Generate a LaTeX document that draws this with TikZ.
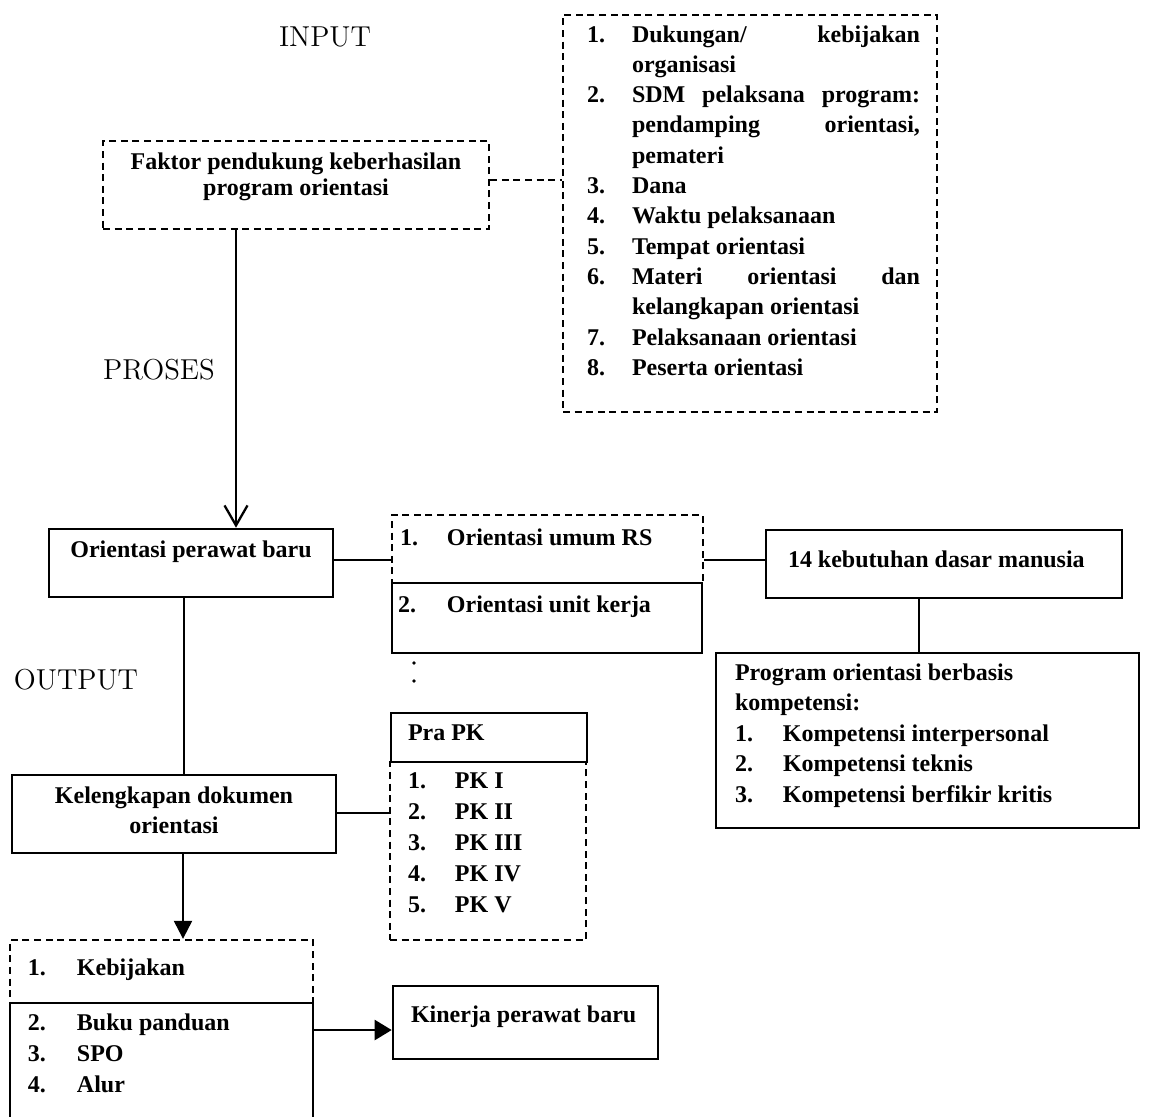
\documentclass[tikz,border=0pt]{standalone}
\usepackage{fontspec}
\newfontfamily\tnr{Liberation Serif}
\usetikzlibrary{arrows.meta}
\newlength\ind
\newcommand\itm[3][0pt]{\noindent\hangindent=\ind\hangafter=1\makebox[\ind][l]{\rule{0pt}{#1}#2}#3\par}
\newcommand\boxfont{\tnr\bfseries\fontsize{12}{15}\selectfont}
\newcommand\labfont{\fontsize{14.4}{17}\selectfont}
\newcommand\prep{\hyphenpenalty=10000 \exhyphenpenalty=10000 \tolerance=1000 \emergencystretch=200pt \hbadness=10000 \parindent=0pt \parskip=0pt }
\tikzset{
  bx/.style={draw, line width=1.3pt, inner sep=0pt, font=\boxfont},
  dbx/.style={bx, line width=1.2pt, dash pattern=on 3.5pt off 2.3pt},
  conn/.style={line width=1.15pt},
  dconn/.style={line width=1.15pt, dash pattern=on 3.5pt off 2.3pt},
  lab/.style={font=\labfont, inner sep=0pt}
}
\begin{document}
\begin{tikzpicture}[x=0.5pt,y=-0.5pt]
\useasboundingbox (0,0) rectangle (1149,1116);
\clip (0,0) rectangle (1149,1116);
% labels
\node[lab] (input) at (325,37) {INPUT};
\node[lab] (proses) at (159,370) {PROSES};
\node[lab] (output) at (76,680) {OUTPUT};
% input boxes
\node[dbx] (faktor) at (296,185) {\parbox[c][44pt][t]{193pt}{\prep\centering\baselineskip=13pt\rule{0pt}{14pt}Faktor pendukung keberhasilan\\program orientasi\par}};
\node[dbx] (list) at (750,213.5) {\parbox[c][198.5pt][t]{187pt}{\prep\baselineskip=15.15pt\leftskip=12pt\rightskip=8.5pt\ind=22.5pt
\itm[13.5pt]{1.}{Dukungan/ kebijakan organisasi}%
\itm{2.}{SDM pelaksana program: pendamping orientasi, pemateri}%
\itm{3.}{Dana}%
\itm{4.}{Waktu pelaksanaan}%
\itm{5.}{Tempat orientasi}%
\itm{6.}{Materi orientasi dan kelangkapan orientasi}%
\itm{7.}{Pelaksanaan orientasi}%
\itm{8.}{Peserta orientasi}}};
% process boxes
\node[bx] (orient) at (191,563) {\parbox[c][34pt][t]{142pt}{\prep\centering\rule{0pt}{14pt}Orientasi perawat baru\par}};
\node[dbx] (umum) at (547.5,549) {\parbox[c][34pt][t]{155.5pt}{\prep\leftskip=4pt\ind=23.5pt\itm[15pt]{1.}{Orientasi umum RS}}};
\node[bx] (unit) at (547,618) {\parbox[c][35pt][t]{155pt}{\prep\leftskip=3pt\ind=24.5pt\itm[14.5pt]{2.}{Orientasi unit kerja}}};
\node[bx] (keb) at (944,564) {\parbox[c][34pt][t]{178pt}{\prep\leftskip=11pt\rule{0pt}{18.5pt}14 kebutuhan dasar manusia\par}};
\node[bx] (prog) at (927.5,740.5) {\parbox[c][87.5pt][t]{211.5pt}{\prep\baselineskip=15.25pt\leftskip=9.5pt\ind=24pt\rule{0pt}{13.5pt}Program orientasi berbasis\\kompetensi:\par
\itm{1.}{Kompetensi interpersonal}%
\itm{2.}{Kompetensi teknis}%
\itm{3.}{Kompetensi berfikir kritis}}};
% output boxes
\node[bx] (kel) at (174,814) {\parbox[c][39pt][t]{162pt}{\prep\centering\baselineskip=15pt\rule{0pt}{14pt}Kelengkapan dokumen\\orientasi\par}};
\node[dbx] (pk) at (488,851) {\parbox[c][89pt][t]{98pt}{\prep\baselineskip=15.5pt\leftskip=9pt\ind=23.5pt
\itm[13pt]{1.}{PK I}%
\itm{2.}{PK II}%
\itm{3.}{PK III}%
\itm{4.}{PK IV}%
\itm{5.}{PK V}}};
\node[bx] (prapk) at (489,737.5) {\parbox[c][24.5pt][t]{98pt}{\prep\leftskip=8.5pt\rule{0pt}{13.5pt}Pra PK\par}};
\node[dbx] (kebij) at (161.5,971.5) {\parbox[c][31.5pt][t]{151.5pt}{\prep\leftskip=9pt\ind=24.5pt\itm[17.5pt]{1.}{Kebijakan}}};
\node[bx] (dok) at (161.5,1071.5) {\parbox[c][68.5pt][t]{151.5pt}{\prep\baselineskip=15.5pt\leftskip=9pt\ind=24.5pt
\itm[13.5pt]{2.}{Buku panduan}%
\itm{3.}{SPO}%
\itm{4.}{Alur}}};
\node[bx] (kin) at (525.5,1022.5) {\parbox[c][36.5pt][t]{132.5pt}{\prep\leftskip=9pt\rule{0pt}{18pt}Kinerja perawat baru\par}};
% stray colon marks
\fill (414,663) circle (0.9pt);
\fill (414,681) circle (0.9pt);
% connectors
\coordinate (c1) at ([yshift=2.5pt]faktor.east);
\draw[dconn] (c1) -- (c1 -| list.west);
\coordinate (c2) at ([xshift=-30pt]faktor.south);
\draw[conn, -{Straight Barb[length=10pt,width=11.5pt]}] (c2) -- (c2 |- orient.north);
\coordinate (c3) at ([yshift=1.5pt]orient.east);
\draw[conn] (c3) -- (c3 -| umum.west);
\coordinate (c4) at ([yshift=2pt]keb.west);
\draw[conn] (c4 -| umum.east) -- (c4);
\coordinate (c5) at ([xshift=-12.5pt]keb.south);
\draw[conn] (c5) -- (c5 |- prog.north);
\coordinate (c6) at ([xshift=-3.5pt]orient.south);
\draw[conn] (c6) -- (c6 |- kel.north);
\coordinate (c7) at ([yshift=0.5pt]kel.east);
\draw[conn] (c7) -- (c7 -| pk.west);
\coordinate (c8) at ([xshift=4.5pt]kel.south);
\draw[conn, -{Triangle[length=9pt,width=9pt]}] (c8) -- (c8 |- kebij.north);
\coordinate (c9) at ([yshift=-3.75pt]kin.west);
\draw[conn, -{Triangle[length=8.5pt,width=10pt]}] (c9 -| dok.east) -- (c9);
\end{tikzpicture}
\end{document}
